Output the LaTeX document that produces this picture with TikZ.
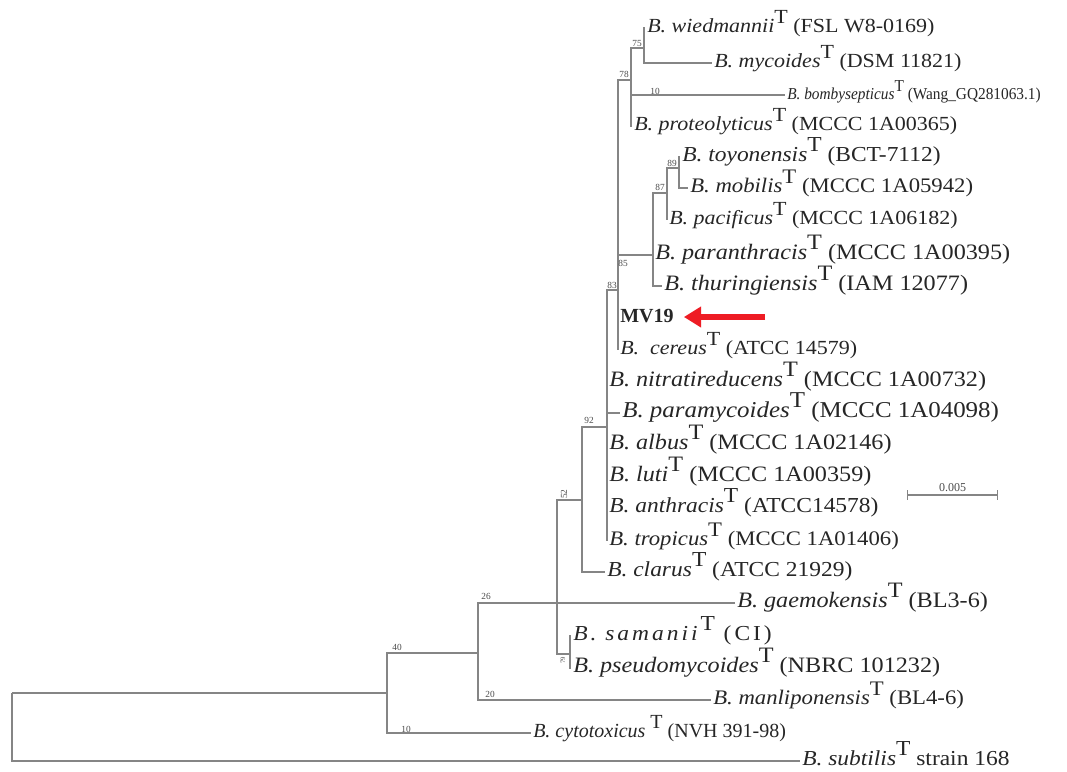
\documentclass[tikz,border=0pt]{standalone}
\usepackage{fontspec}
\setmainfont{Liberation Serif}
\newfontfamily\leaffont{Liberation Serif}[FakeStretch=1.1]
\newfontfamily\narrowfont{Liberation Serif}[FakeStretch=0.92]
\usetikzlibrary{arrows.meta,calc}
\definecolor{treeGray}{HTML}{858585}
\definecolor{markRed}{HTML}{EE1C24}
\newcommand{\supT}{\raisebox{0.45em}{\upshape T}}
\newcommand{\bsp}[2]{\textit{B.\ #1}\supT\ #2}

\begin{document}
\begin{tikzpicture}[
  x=0.75pt, y=-0.75pt,
  br/.style={draw=treeGray, line width=0.9pt},
  leaf/.style={
    anchor=west, inner sep=1.5pt, text=black!85,
    font=\leaffont\fontsize{#1}{18}\selectfont,
    text height=1.45ex, text depth=0pt
  },
  leaf/.default=16,
  boot/.style={font=\fontsize{7}{8}\selectfont, text=black!70, inner sep=0pt},
  redarr/.style={-{Triangle[length=13pt,width=15pt]}, line width=5pt, markRed},
]
\useasboundingbox (0,0) rectangle (1067,771);
\fill[white] (0,0) rectangle (1067,771);

% === Internal nodes ===
\coordinate (root)  at (12,693);
\coordinate (n40)   at (387,693);
\coordinate (n26)   at (478,653);
\coordinate (n52)   at (557,603);
\coordinate (n92)   at (582,500);
\coordinate (npoly) at (607,427);
\coordinate (n83)   at (618,290);
\coordinate (n78)   at (631,80);
\coordinate (n75)   at (644,48);
\coordinate (n85)   at (653,255);
\coordinate (n87)   at (667,193);
\coordinate (n89)   at (679,168);
\coordinate (n79)   at (570,654);

% === Leaves ===
\node[leaf=15] (wied) at (645,28)  {\bsp{wiedmannii}{(FSL W8-0169)}};
\node[leaf=15] (myco) at (712,63)  {\bsp{mycoides}{(DSM 11821)}};
\node[leaf, font=\narrowfont\fontsize{12.5}{14}\selectfont] (bomb) at (785,95)
  {\bsp{bombysepticus}{(Wang\_GQ281063.1)}};
\node[leaf=15] (prot) at (632,126) {\bsp{proteolyticus}{(MCCC 1A00365)}};
\node[leaf] (toyo) at (680,157) {\bsp{toyonensis}{(BCT-7112)}};
\node[leaf=15.5] (mobi) at (688,188) {\bsp{mobilis}{(MCCC 1A05942)}};
\node[leaf=15] (paci) at (667,220) {\bsp{pacificus}{(MCCC 1A06182)}};
\node[leaf=16.5] (para) at (653,255) {\bsp{paranthracis}{(MCCC 1A00395)}};
\node[leaf=16.5] (thur) at (662,286) {\bsp{thuringiensis}{(IAM 12077)}};
\node[leaf, font=\fontsize{15}{17}\selectfont] (mv19) at (618,318) {\textbf{MV19}};
\node[leaf=15] (cere) at (618,350) {\textit{B.\ \ cereus}\supT\ (ATCC 14579)};
\node[leaf=16.5] (nitr) at (607,382) {\bsp{nitratireducens}{(MCCC 1A00732)}};
\node[leaf=17] (pamy) at (620,413) {\bsp{paramycoides}{(MCCC 1A04098)}};
\node[leaf=16.5] (albu) at (607,445) {\bsp{albus}{(MCCC 1A02146)}};
\node[leaf=16.5] (luti) at (607,477) {\bsp{luti}{(MCCC 1A00359)}};
\node[leaf] (anth) at (607,508) {\bsp{anthracis}{(ATCC14578)}};
\node[leaf=15.5] (trop) at (607,541) {\bsp{tropicus}{(MCCC 1A01406)}};
\node[leaf] (clar) at (605,572) {\bsp{clarus}{(ATCC 21929)}};
\node[leaf=16.5] (gaem) at (735,603) {\bsp{gaemokensis}{(BL3-6)}};
\node[leaf] (sama) at (571,636)
  {\addfontfeatures{LetterSpace=14}\bsp{samanii}{(CI)}};
\node[leaf=16.5] (pseu) at (571,668) {\bsp{pseudomycoides}{(NBRC 101232)}};
\node[leaf=15.5] (manl) at (711,700) {\bsp{manliponensis}{(BL4-6)}};
\node[leaf, font=\fontsize{15}{17}\selectfont] (cyto) at (531,733)
  {\textit{B.\ cytotoxicus} \supT\ (NVH 391-98)};
\node[leaf] (subt) at (800,761) {\bsp{subtilis}{strain 168}};

% === Branches ===
\draw[br] (root) |- (n40)  (root) |- (subt.west);
\draw[br] (n40) |- (n26)  (n40) |- (cyto.west);
\draw[br] (n26) |- (n52)  (n26) |- (manl.west);
\draw[br] (n52) |- (n92)  (n52) -- (gaem.west)  (n52) |- (n79);
\draw[br] (n79) |- (sama.west)  (n79) |- (pseu.west);
\draw[br] (n92) |- (npoly)  (n92) |- (clar.west);
\draw[br] (npoly) |- (n83)  (npoly) |- (nitr.west)  (npoly) |- (pamy.west)
  (npoly) |- (albu.west)  (npoly) |- (luti.west)  (npoly) |- (anth.west)
  (npoly) |- (trop.west);
\draw[br] (n83) |- (n78)  (n83) |- (n85)  (n83) |- (mv19.west)  (n83) |- (cere.west);
\draw[br] (n78) |- (n75)  (n78) |- (bomb.west)  (n78) |- (prot.west);
\draw[br] (n75) |- (wied.west)  (n75) |- (myco.west);
\draw[br] (n85) |- (n87)  (n85) |- (para.west)  (n85) |- (thur.west);
\draw[br] (n87) |- (n89)  (n87) |- (paci.west);
\draw[br] (n89) |- (toyo.west)  (n89) |- (mobi.west);

% === Bootstrap values ===
\node[boot] (b75) at (637,43) {75};
\node[boot] (b78) at (624,74) {78};
\node[boot] (b10a) at (655,91) {10};
\node[boot] (b89) at (672,163) {89};
\node[boot] (b87) at (660,187) {87};
\node[boot] (b85) at (623,263) {85};
\node[boot] (b83) at (612,285) {83};
\node[boot] (b92) at (589,420) {92};
\node[boot, rotate=90] (b52) at (564,494) {52};
\node[boot] (b26) at (486,596) {26};
\node[boot] (b40) at (397,647) {40};
\node[boot] (b20) at (490,694) {20};
\node[boot] (b10b) at (406,729) {10};
\node[boot, rotate=90, font=\fontsize{5}{6}\selectfont] (b79) at (563,660) {79};

% === Scale bar ===
\coordinate (sbL) at (907,495);
\coordinate (sbR) at (998,495);
\draw[br, {Bar[width=7pt]}-{Bar[width=7pt]}] (sbL) -- (sbR)
  node[midway, above=2pt, boot, font=\fontsize{9}{10}\selectfont] (sblab) {0.005};

% === Marker arrow ===
\coordinate (arrTail) at (765,317);
\draw[redarr, shorten >=6pt] (arrTail) -- (mv19.east |- arrTail);

\end{tikzpicture}
\end{document}
